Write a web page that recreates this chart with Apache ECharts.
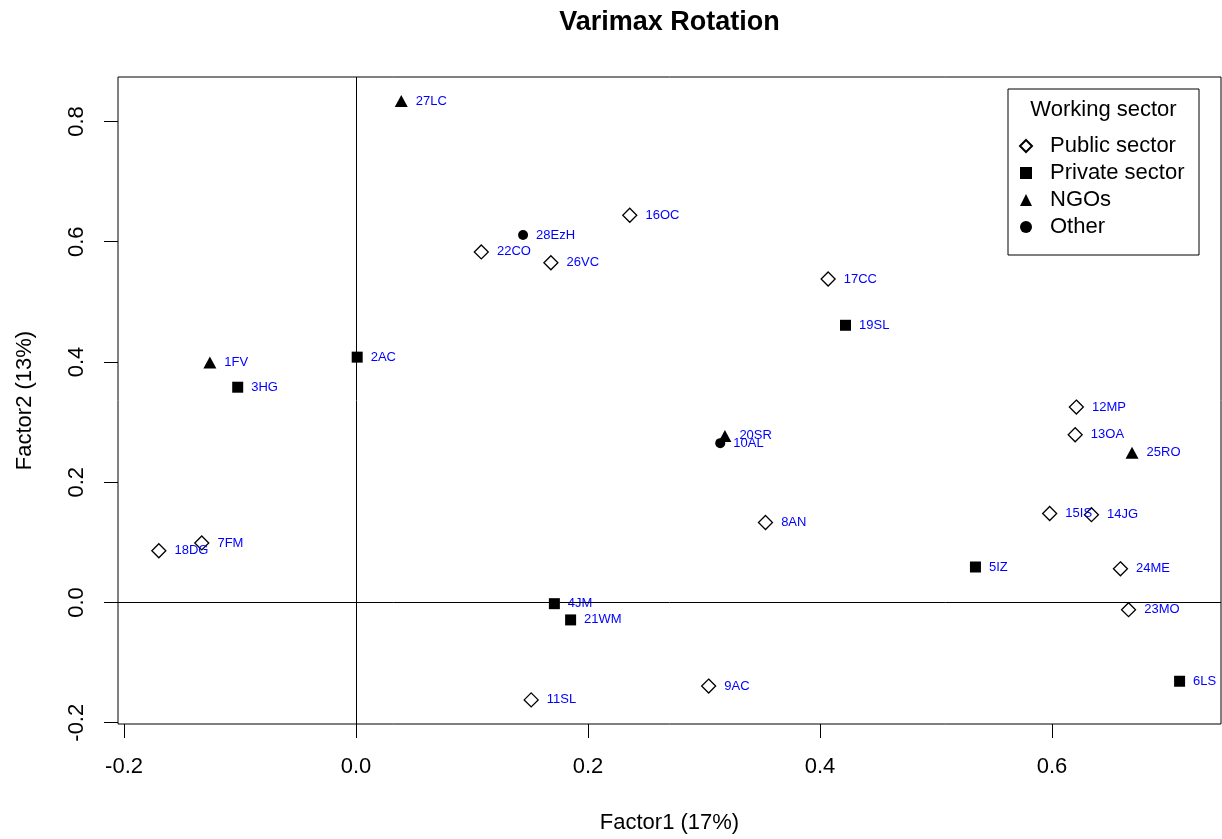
<!DOCTYPE html>
<html>
<head>
<meta charset="utf-8">
<title>Varimax Rotation</title>
<script src="https://cdn.jsdelivr.net/npm/echarts@6/dist/echarts.min.js"></script>
</head>
<body style="margin:0">
<div id="chart" style="width:1222px;height:839px;"></div>
<script>
var names = ['1FV','2AC','3HG','4JM','5IZ','6LS','7FM','8AN','9AC','10AL','11SL','12MP','13OA','14JG',
	'15IS','16OC','17CC','18DG','19SL','20SR','21WM','22CO','23MO','24ME','25RO','26VC','27LC','28EzH'];
var factor1 = [-0.126,0.001,-0.102,0.171,0.534,0.710,-0.133,0.353,0.304,0.314,0.151,0.621,0.620,0.634,
	0.598,0.236,0.407,-0.170,0.422,0.318,0.185,0.108,0.666,0.659,0.669,0.168,0.039,0.144];
var factor2 = [0.399,0.408,0.358,-0.002,0.059,-0.131,0.099,0.133,-0.139,0.265,-0.162,0.325,0.279,0.146,
	0.148,0.644,0.538,0.086,0.461,0.277,-0.029,0.583,-0.012,0.056,0.249,0.565,0.834,0.611];
var sector = ['NGOs','Private sector','Private sector','Private sector','Private sector','Private sector',
	'Public sector','Public sector','Public sector','Other','Public sector','Public sector','Public sector',
	'Public sector','Public sector','Public sector','Public sector','Public sector','Private sector','NGOs',
	'Private sector','Public sector','Public sector','Public sector','NGOs','Public sector','NGOs','Other'];
var sectors = ['Public sector','Private sector','NGOs','Other'];
var xTicks = [-0.2,0,0.2,0.4,0.6];
var yTicks = [-0.2,0,0.2,0.4,0.6,0.8];

var font = 'Liberation Sans, Arial, Helvetica, sans-serif';

// marker look per sector (R pch 5, 15, 17, 16)
var markers = {
	'Public sector': {symbol: 'diamond', size: 14, fill: '#fff', border: 1.3},
	'Private sector': {symbol: 'rect', size: 11, fill: '#000', border: 0},
	'NGOs': {symbol: 'triangle', size: [13, 12], fill: '#000', border: 0},
	'Other': {symbol: 'circle', size: 10, fill: '#000', border: 0}
};

var chart = echarts.init(document.getElementById('chart'));

var series = sectors.map(function (s, k) {
	var m = markers[s];
	var pts = [];
	for (var i = 0; i < names.length; i++) {
		if (sector[i] === s) pts.push({name: names[i], value: [factor1[i], factor2[i]]});
	}
	var ser = {
		name: s,
		type: 'scatter',
		symbol: m.symbol,
		symbolSize: m.size,
		itemStyle: {color: m.fill, borderColor: '#000', borderWidth: m.border, opacity: 1},
		label: {
			show: true,
			position: 'right',
			distance: 8,
			formatter: '{b}',
			color: '#0000ff',
			fontSize: 13,
			fontFamily: font
		},
		emphasis: {disabled: true},
		data: pts
	};
	if (k === 0) {
		ser.markLine = {
			silent: true,
			symbol: 'none',
			label: {show: false},
			lineStyle: {color: '#000', width: 1, type: 'solid'},
			data: [{xAxis: 0}, {yAxis: 0}]
		};
	}
	return ser;
});

var option = {
	animation: false,
	backgroundColor: '#fff',
	grid: {left: 118, right: 1, top: 77, bottom: 111, show: true, borderColor: '#000', borderWidth: 1},
	graphic: [
		{type: 'text', x: 669.5, y: 9,
			style: {text: 'Varimax Rotation', font: 'bold 27px ' + font, fill: '#000', textAlign: 'center'}},
		{type: 'rect', shape: {x: 1008, y: 89, width: 191, height: 166},
			style: {fill: 'none', stroke: '#000', lineWidth: 1}},
		{type: 'text', x: 1103.5, y: 99,
			style: {text: 'Working sector', font: '22px ' + font, fill: '#000', textAlign: 'center'}}
	],
	legend: {
		orient: 'vertical',
		left: 1019,
		top: 135,
		itemWidth: 12,
		itemHeight: 12,
		itemGap: 5,
		padding: 0,
		selectedMode: false,
		data: sectors,
		itemStyle: {opacity: 1},
		textStyle: {fontSize: 22, lineHeight: 22, fontFamily: font, color: '#000', padding: [0, 0, 0, 13]}
	},
	xAxis: {
		type: 'value',
		min: -0.2052,
		max: 0.7457,
		name: 'Factor1 (17%)',
		nameLocation: 'middle',
		nameGap: 88,
		nameTextStyle: {fontSize: 22, fontFamily: font, color: '#000'},
		axisLine: {show: false, onZero: false},
		splitLine: {show: false},
		axisTick: {show: true, length: 14, customValues: xTicks, lineStyle: {color: '#000'}},
		axisLabel: {
			customValues: xTicks,
			margin: 32,
			fontSize: 22,
			fontFamily: font,
			color: '#000',
			formatter: function (v) { return v.toFixed(1); }
		}
	},
	yAxis: {
		type: 'value',
		min: -0.2021,
		max: 0.8739,
		name: 'Factor2 (13%)',
		nameLocation: 'middle',
		nameGap: 82,
		nameTextStyle: {fontSize: 22, fontFamily: font, color: '#000'},
		axisLine: {show: false, onZero: false},
		splitLine: {show: false},
		axisTick: {show: true, length: 14, customValues: yTicks, lineStyle: {color: '#000'}},
		axisLabel: {
			customValues: yTicks,
			rotate: 90,
			margin: 30,
			fontSize: 22,
			fontFamily: font,
			color: '#000',
			formatter: function (v) { return v.toFixed(1); }
		}
	},
	series: series
};

chart.setOption(option);
</script>
</body>
</html>
